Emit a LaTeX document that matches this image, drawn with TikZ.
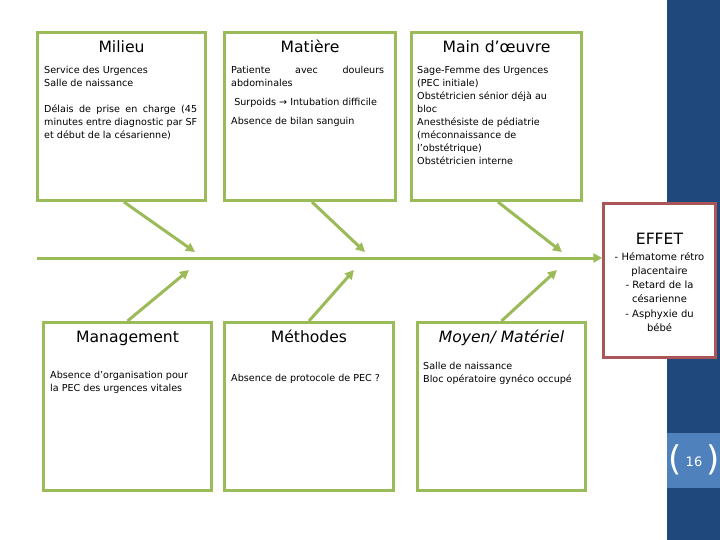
\documentclass[tikz,border=0pt]{standalone}
\usepackage{fontspec}
\setmainfont{DejaVu Sans}
\usepackage{xcolor}
\usepackage{tikz}
\usetikzlibrary{arrows.meta,positioning}

\definecolor{bonegreen}{HTML}{9BBB59}
\definecolor{slidenavy}{HTML}{1F497D}
\definecolor{slideblue}{HTML}{4F81BD}
\definecolor{effred}{RGB}{170,86,88}

\begin{document}
\begin{tikzpicture}[
  x=1pt, y=-1pt,
  cat/.style={draw=bonegreen, line width=3pt, fill=white, inner sep=0pt,
              minimum width=168pt, minimum height=168pt},
  effbox/.style={draw=effred, line width=2.5pt, fill=white, inner sep=0pt,
              minimum width=112pt, minimum height=154pt},
  hd/.style={font=\fontsize{15.6}{18}\selectfont, anchor=base, inner sep=0pt},
  txt/.style={font=\fontsize{9.6}{13}\selectfont, anchor=north west, align=left,
              inner sep=0pt},
  lst/.style={font=\fontsize{10}{14.2}\selectfont, anchor=north, align=center,
              text width=110pt, inner sep=0pt},
  bone/.style={draw=bonegreen, line width=3pt, -{Triangle[length=9pt,width=9pt]}}
]
\useasboundingbox (0,0) rectangle (720,540);

% slide bar on the right
\fill[slidenavy] (667,0) rectangle (720,540);
\node[fill=slideblue, minimum width=53pt, minimum height=55pt, inner sep=0pt] (pagebox) at (693.5,460.5) {};
\node[text=white, font=\fontsize{13}{15}\selectfont, inner sep=0pt] (pgnum) at ([xshift=0.5pt,yshift=-1.5pt]pagebox.center) {16};
\node[text=white, font=\fontsize{34}{34}\selectfont, inner sep=0pt] (lpar) at ([xshift=-18pt,yshift=1pt]pagebox.center) {(};
\node[text=white, font=\fontsize{34}{34}\selectfont, inner sep=0pt] (rpar) at ([xshift=19.5pt,yshift=1pt]pagebox.center) {)};

% the six causes
\node[cat] (milieu) at (121.5,116.5) {};
\node[cat, minimum width=171pt] (matiere) at (310,116.5) {};
\node[cat, minimum width=170pt] (maindo) at (496.5,116.5) {};
\node[cat] (mgmt) at (127.5,406.5) {};
\node[cat, minimum width=169pt] (methodes) at (309,406.5) {};
\node[cat] (moyen) at (501.5,406.5) {};

\node[hd] (milieuhd) at ([yshift=-22pt]milieu.north) {Milieu};
\node[hd] (matierehd) at ([yshift=-22pt]matiere.north) {Matière};
\node[hd] (maindohd) at ([yshift=-22pt]maindo.north) {Main d’œuvre};
\node[hd] (mgmthd) at ([yshift=-21pt]mgmt.north) {Management};
\node[hd] (methodeshd) at ([yshift=-21pt]methodes.north) {Méthodes};
\node[hd, font=\fontsize{15.6}{18}\selectfont\itshape] (moyenhd) at ([yshift=-21pt]moyen.north) {Moyen/ Matériel};

\node[txt] (milieutx) at ([shift={(8,32.9)}]milieu.north west)
  {\strut Service des Urgences\\
   Salle de naissance\\[13pt]
   \makebox[153pt][s]{Délais de prise en charge (45}\\
   \makebox[153pt][s]{minutes entre diagnostic par SF}\\
   et début de la césarienne)};
\node[txt] (matieretx) at ([shift={(8,32.9)}]matiere.north west)
  {\strut\makebox[153pt][s]{Patiente avec douleurs}\\
   abdominales\\[6pt]
   \ Surpoids → Intubation difficile\\[6pt]
   Absence de bilan sanguin};
\node[txt] (maindotx) at ([shift={(7,32.9)}]maindo.north west)
  {\strut Sage-Femme des Urgences\\
   (PEC initiale)\\
   Obstétricien sénior déjà au\\
   bloc\\
   Anesthésiste de pédiatrie\\
   (méconnaissance de\\
   l’obstétrique)\\
   Obstétricien interne};
\node[txt] (mgmttx) at ([shift={(8,47.9)}]mgmt.north west)
  {\strut Absence d’organisation pour\\
   la PEC des urgences vitales};
\node[txt] (methodestx) at ([shift={(8,50.9)}]methodes.north west)
  {\strut Absence de protocole de PEC ?};
\node[txt] (moyentx) at ([shift={(7,38.9)}]moyen.north west)
  {\strut Salle de naissance\\
   Bloc opératoire gynéco occupé};

% effect
\node[effbox] (effet) at (659.5,280.5) {};
\node[hd] (effethd) at ([yshift=-42pt]effet.north) {EFFET};
\node[lst] (effettx) at ([yshift=-6pt]effethd.base)
  {\strut - Hématome rétro\\ placentaire\\ - Retard de la\\ césarienne\\ - Asphyxie du\\ bébé};

% spine and bones
\coordinate (tail) at (37,258);
\coordinate (b1) at (195,252);
\coordinate (b2) at (365,252);
\coordinate (b3) at (562,252);
\coordinate (b4) at (189,270);
\coordinate (b5) at (354,270);
\coordinate (b6) at (557,270);

\draw[bone] (tail) -- (tail -| effet.west);
\draw[bone] ([xshift=2.5pt]milieu.south) -- (b1);
\draw[bone] ([xshift=2pt]matiere.south) -- (b2);
\draw[bone] ([xshift=1.5pt]maindo.south) -- (b3);
\draw[bone] (mgmt.north) -- (b4);
\draw[bone] (methodes.north) -- (b5);
\draw[bone] (moyen.north) -- (b6);
\end{tikzpicture}
\end{document}
